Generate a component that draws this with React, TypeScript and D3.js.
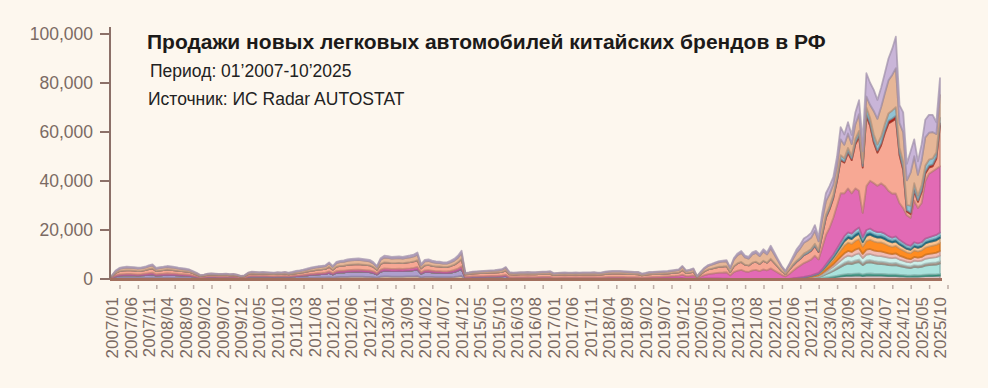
import React from 'react';
import * as d3 from 'd3';

// monthly sales, 2007/01 - 2025/10
const vortex = [
  [200, 400, 500, 500, 500, 500, 500, 500, 500, 600, 600, 700],
  [500, 550, 600, 650, 600, 600, 550, 500, 500, 450, 400, 300],
  [200, 250, 300, 300, 300, 300, 300, 300, 250, 300, 250, 200],
  [200, 350, 400, 400, 400, 400, 400, 350, 350, 400, 350, 400],
  [350, 400, 450, 450, 500, 550, 600, 600, 650, 650, 700, 800],
  [600, 800, 850, 850, 900, 950, 950, 950, 950, 900, 900, 800],
  [600, 950, 1050, 1050, 1000, 1000, 1000, 1000, 1050, 1050, 1100, 1200],
  [700, 900, 900, 850, 800, 800, 750, 750, 800, 900, 1050, 1250],
  [200, 200, 250, 250, 250, 250, 250, 250, 250, 250, 250, 300],
];

const lifan = [
  [300, 700, 900, 1000, 1000, 1000, 1000, 900, 1000, 1000, 1100, 1200],
  [900, 950, 1000, 1050, 1000, 1000, 950, 900, 850, 800, 650, 500],
  [350, 400, 500, 500, 500, 450, 450, 500, 450, 450, 400, 300],
  [300, 550, 650, 600, 600, 600, 600, 600, 550, 600, 600, 600],
  [550, 600, 700, 750, 850, 950, 1050, 1150, 1250, 1300, 1350, 1700],
  [1300, 1750, 1850, 1900, 2000, 2050, 2100, 2100, 2050, 2000, 1950, 1700],
  [1300, 2100, 2350, 2300, 2250, 2250, 2300, 2250, 2300, 2400, 2500, 2700],
  [1500, 1950, 2000, 1900, 1800, 1800, 1700, 1700, 1850, 2050, 2400, 2900],
  [500, 550, 600, 600, 650, 650, 700, 700, 700, 750, 800, 950],
  [550, 500, 550, 550, 550, 550, 550, 550, 550, 600, 600, 600],
  [450, 450, 500, 500, 500, 500, 500, 500, 500, 500, 500, 500],
  [450, 450, 500, 550, 550, 550, 550, 550, 500, 500, 500, 450],
  [350, 400, 400, 400, 400, 400, 400, 400, 400, 350, 350, 400],
  [200, 200, 200, 50, 150, 200, 200, 200, 200, 200, 150, 150],
  [50, 50, 50, 50, 50, 50, 50, 50, 50, 50, 50, 50],
];

const chery = [
  [200, 400, 500, 500, 600, 600, 500, 500, 500, 600, 700, 700],
  [550, 600, 600, 650, 650, 600, 550, 550, 500, 500, 400, 300],
  [200, 200, 250, 250, 250, 250, 250, 250, 250, 250, 200, 150],
  [150, 250, 300, 300, 250, 300, 250, 250, 250, 250, 250, 300],
  [250, 300, 300, 350, 350, 400, 450, 450, 500, 500, 550, 650],
  [500, 650, 700, 700, 750, 750, 750, 800, 750, 750, 700, 650],
  [500, 800, 900, 900, 850, 850, 900, 850, 900, 900, 950, 1000],
  [550, 700, 750, 700, 650, 650, 650, 650, 700, 750, 850, 1050],
  [250, 250, 300, 300, 300, 300, 300, 350, 350, 350, 400, 450],
  [250, 250, 250, 250, 250, 300, 250, 250, 300, 300, 300, 300],
  [200, 200, 200, 250, 200, 200, 250, 200, 250, 250, 250, 250],
  [250, 250, 300, 300, 300, 300, 300, 300, 300, 300, 300, 300],
  [250, 300, 400, 450, 500, 550, 650, 700, 800, 900, 1000, 1400],
  [1000, 1100, 1300, 350, 900, 1400, 1800, 2000, 2200, 2400, 2500, 2600],
  [1500, 2800, 3400, 3700, 3100, 2900, 3500, 3700, 3200, 3900, 3500, 4300],
  [3500, 2600, 1700, 1100, 2000, 3000, 4000, 4800, 5600, 6000, 6500, 7500],
  [5500, 9000, 12000, 13000, 15000, 17500, 20000, 17500, 18000, 16500, 17000, 15000],
  [10000, 18000, 19500, 19500, 19000, 20000, 19500, 18500, 18000, 17500, 15000, 14000],
  [12000, 11500, 17000, 14500, 16000, 23500, 26000, 26500, 27000, 27000],
];

const haval = [
  [400, 1000, 1300, 1400, 1400, 1400, 1400, 1300, 1300, 1400, 1600, 1700],
  [1300, 1350, 1400, 1500, 1450, 1350, 1300, 1250, 1200, 1100, 900, 700],
  [450, 500, 600, 650, 600, 600, 600, 600, 550, 600, 500, 350],
  [450, 800, 900, 850, 850, 900, 850, 800, 800, 850, 800, 850],
  [750, 800, 900, 950, 1050, 1150, 1250, 1350, 1400, 1450, 1500, 1800],
  [1400, 1850, 1950, 2000, 2100, 2150, 2200, 2200, 2150, 2100, 2050, 1800],
  [1400, 2250, 2500, 2450, 2350, 2400, 2400, 2350, 2450, 2500, 2600, 2800],
  [1600, 2050, 2100, 1950, 1900, 1850, 1800, 1800, 1950, 2150, 2500, 3000],
  [900, 1000, 1100, 1150, 1200, 1250, 1250, 1300, 1350, 1400, 1450, 1800],
  [1050, 1000, 1000, 1050, 1050, 1100, 1050, 1050, 1100, 1100, 1100, 1200],
  [950, 1000, 1050, 1050, 1050, 1050, 1050, 1050, 1050, 1050, 1050, 1100],
  [1050, 1100, 1200, 1300, 1350, 1350, 1350, 1300, 1250, 1200, 1150, 1150],
  [850, 950, 1100, 1100, 1100, 1100, 1100, 1100, 1200, 1300, 1350, 1900],
  [1200, 1300, 1450, 400, 1000, 1550, 1900, 2050, 2250, 2400, 2450, 2500],
  [1300, 2400, 3000, 3200, 2700, 2600, 3100, 3300, 2900, 3500, 3100, 3900],
  [3100, 2300, 1500, 900, 1700, 2200, 2500, 2700, 3200, 3300, 3500, 4000],
  [3000, 5000, 7000, 7500, 8000, 10000, 13500, 12500, 14500, 13500, 18000, 22000],
  [18500, 28500, 22500, 16500, 13500, 15500, 21500, 27500, 29500, 30500, 19500, 15500],
  [1500, 1500, 4000, 2500, 4500, 3000, 2500, 2000, 4000, 16500],
];

const geely = [
  [300, 700, 900, 1000, 1100, 1000, 1000, 1000, 1000, 1000, 1100, 1200],
  [900, 950, 1000, 1050, 1000, 950, 900, 850, 800, 750, 600, 500],
  [300, 350, 400, 450, 400, 350, 350, 400, 350, 350, 300, 200],
  [300, 500, 550, 550, 500, 500, 500, 500, 450, 500, 500, 550],
  [500, 550, 650, 700, 750, 800, 900, 950, 1000, 1050, 1100, 1350],
  [1100, 1400, 1500, 1550, 1650, 1700, 1700, 1750, 1700, 1650, 1600, 1400],
  [1100, 1750, 1950, 1900, 1850, 1900, 1900, 1850, 1900, 2000, 2050, 2250],
  [1200, 1550, 1600, 1500, 1450, 1400, 1350, 1350, 1500, 1650, 1900, 2300],
  [500, 550, 600, 650, 650, 700, 700, 700, 750, 800, 850, 1050],
  [700, 650, 650, 700, 700, 700, 700, 700, 700, 750, 750, 800],
  [600, 650, 650, 700, 650, 650, 700, 650, 700, 700, 700, 750],
  [650, 700, 750, 800, 850, 850, 850, 800, 800, 750, 700, 750],
  [550, 600, 700, 700, 750, 800, 800, 850, 850, 900, 950, 1300],
  [850, 950, 1050, 300, 750, 1150, 1450, 1600, 1750, 1900, 1950, 2000],
  [1500, 2700, 3300, 3700, 3000, 2800, 3400, 3600, 3200, 3800, 3400, 4300],
  [3400, 2500, 1700, 1000, 1800, 2300, 3300, 3800, 4400, 4500, 4600, 5300],
  [3700, 5300, 5600, 5000, 4300, 4700, 6500, 5500, 5900, 4800, 6000, 6800],
  [4800, 4500, 5300, 9500, 10500, 12000, 12500, 13500, 14500, 16000, 10000, 12000],
  [10000, 13500, 11000, 8500, 10000, 11500, 11000, 10800, 7500, 9200],
];

const other = [
  [100, 300, 400, 400, 400, 400, 400, 400, 400, 400, 500, 500],
  [350, 400, 400, 400, 400, 400, 350, 350, 350, 300, 250, 200],
  [100, 100, 150, 150, 150, 150, 150, 150, 150, 150, 150, 100],
  [100, 150, 200, 200, 200, 200, 200, 200, 200, 200, 200, 200],
  [200, 250, 300, 300, 300, 350, 350, 400, 400, 450, 400, 500],
  [400, 550, 550, 600, 600, 600, 600, 600, 600, 600, 600, 550],
  [400, 650, 750, 700, 700, 700, 700, 700, 700, 750, 800, 850],
  [450, 650, 650, 600, 600, 600, 550, 550, 600, 700, 800, 1000],
  [150, 150, 150, 150, 150, 150, 200, 200, 200, 250, 250, 350],
  [250, 200, 250, 250, 250, 250, 250, 250, 250, 250, 250, 300],
  [200, 200, 200, 200, 200, 200, 200, 200, 200, 200, 200, 200],
  [200, 200, 250, 250, 250, 250, 250, 250, 250, 250, 250, 250],
  [200, 250, 300, 250, 250, 250, 250, 250, 250, 250, 250, 300],
  [250, 250, 300, 100, 200, 300, 350, 350, 400, 400, 450, 450],
  [300, 600, 700, 800, 700, 700, 800, 800, 700, 900, 800, 1000],
  [800, 600, 400, 300, 500, 900, 1300, 1500, 1750, 1800, 1900, 2300],
  [1600, 2650, 3200, 3250, 3000, 3600, 5000, 4200, 4600, 3700, 4800, 5700],
  [3900, 9500, 9000, 8600, 7700, 7900, 8200, 8900, 10600, 12800, 7300, 8100],
  [6700, 8600, 6900, 5500, 6600, 7200, 7300, 7000, 4800, 7000],
];

// brands on the market from 2022/06 on
const kaiyi = [0, 0, 50, 50, 100, 100, 150, 200, 300, 400, 550, 700, 850, 1050, 1200, 1350, 1300, 1400, 1450, 1200, 1400, 1450, 1350, 1350, 1350, 1300, 1200, 1200, 1200, 1100, 1050, 1000, 950, 1050, 1000, 1050, 1150, 1200, 1200, 1250, 1350];
const changan = [0, 0, 0, 50, 50, 50, 100, 100, 150, 250, 300, 400, 500, 600, 700, 750, 750, 800, 850, 700, 800, 800, 800, 750, 750, 750, 700, 700, 700, 650, 600, 550, 550, 600, 600, 600, 650, 700, 700, 700, 750];
const tenet = [0, 0, 50, 100, 150, 250, 350, 500, 850, 1300, 1750, 2200, 2750, 3300, 3850, 4200, 4050, 4400, 4600, 3750, 4400, 4500, 4300, 4100, 4000, 3900, 3800, 3700, 3800, 3500, 3300, 3100, 2950, 3300, 3200, 3300, 3650, 3750, 3850, 3950, 4200];
const faw = [0, 50, 50, 50, 50, 100, 100, 150, 200, 300, 400, 500, 650, 750, 900, 950, 900, 1000, 1050, 850, 1000, 1000, 950, 950, 950, 900, 900, 850, 900, 800, 750, 700, 700, 750, 700, 750, 800, 850, 900, 900, 950];
const jetour = [0, 50, 100, 100, 150, 150, 250, 300, 500, 700, 950, 1200, 1500, 1800, 2100, 2300, 2200, 2400, 2500, 2050, 2400, 2450, 2350, 2300, 2300, 2200, 2100, 2050, 2100, 1900, 1800, 1650, 1600, 1800, 1750, 1800, 2000, 2050, 2100, 2150, 2300];
const omoda = [50, 100, 100, 150, 150, 200, 200, 250, 400, 600, 800, 1000, 1250, 1500, 1750, 1900, 1850, 2000, 2100, 1700, 2000, 2050, 1950, 1900, 1900, 1850, 1750, 1700, 1750, 1600, 1500, 1400, 1350, 1500, 1450, 1500, 1650, 1700, 1750, 1800, 1900];
const exeed = [100, 150, 200, 200, 250, 300, 400, 450, 700, 1100, 1450, 1800, 2250, 2700, 3150, 3400, 3350, 3600, 3800, 3050, 3600, 3800, 3700, 3600, 3700, 3500, 3200, 3000, 3100, 2900, 2700, 2500, 2450, 2700, 2600, 2700, 2950, 3050, 3150, 3250, 3400];
const jaecoo = [0, 0, 0, 50, 100, 100, 150, 250, 400, 600, 800, 1000, 1250, 1500, 1750, 1900, 1850, 2000, 2100, 1700, 2000, 2050, 1950, 1900, 1900, 1850, 1750, 1700, 1750, 1600, 1500, 1400, 1350, 1500, 1450, 1500, 1650, 1700, 1750, 1800, 1900];
const dongfeng = [50, 50, 50, 50, 50, 100, 100, 100, 200, 300, 400, 500, 600, 750, 850, 950, 950, 1000, 1050, 850, 1000, 1000, 1000, 950, 950, 950, 850, 850, 850, 800, 750, 700, 650, 750, 750, 750, 850, 850, 850, 900, 950];
const gac = [100, 100, 100, 100, 150, 150, 200, 200, 300, 450, 600, 700, 900, 1050, 1250, 1300, 1300, 1400, 1500, 1150, 1400, 1500, 1350, 1300, 1300, 1300, 1250, 1150, 1250, 1150, 1050, 1000, 950, 1050, 1000, 1050, 1150, 1150, 1250, 1300, 1300];
const hongqi = [0, 0, 0, 50, 50, 100, 100, 100, 150, 200, 250, 300, 400, 500, 500, 600, 600, 700, 800, 600, 1000, 900, 900, 800, 900, 1000, 1100, 1100, 1200, 900, 800, 600, 600, 700, 600, 700, 800, 800, 800, 900, 1000];
const byd = [300, 400, 500, 600, 650, 700, 800, 600, 900, 1000, 1000, 1000, 1100, 1500, 1300, 1400, 1200, 1500, 1700, 1200, 2500, 2300, 2500, 2500, 2700, 2800, 3000, 3300, 3500, 2300, 2600, 2200, 2800, 2400, 1900, 2200, 2500, 2400, 2400, 1800, 2300];

const months = d3.timeMonth.range(new Date(2007, 0, 1), new Date(2025, 10, 1));
const fmtMonth = d3.timeFormat('%Y/%m');
const lateFrom = months.findIndex(m => fmtMonth(m) === '2022/06');

const yTicks = [0, 20000, 40000, 60000, 80000, 100000];

const full = (rows: number[][]) => {
  const v = rows.flat();
  return months.map((_, i) => v[i] ?? 0);
};
const late = (v: number[]) => months.map((_, i) => (i >= lateFrom ? v[i - lateFrom] : 0));

// bottom -> top
const series: [string, number[], string][] = [
  ['Vortex', full(vortex), '#dbbd9e'],
  ['Lifan', full(lifan), '#ae9fcd'],
  ['Kaiyi', late(kaiyi), '#d9c3c6'],
  ['Changan', late(changan), '#3aa58e'],
  ['Tenet', late(tenet), '#a9e2dc'],
  ['FAW', late(faw), '#b8a498'],
  ['Jetour', late(jetour), '#cdeee9'],
  ['Omoda', late(omoda), '#f2bcb4'],
  ['Exeed', late(exeed), '#ff8c21'],
  ['Jaecoo', late(jaecoo), '#fcc38e'],
  ['Dongfeng', late(dongfeng), '#1b7592'],
  ['GAC', late(gac), '#95cfe0'],
  ['Chery', full(chery), '#e26ab5'],
  ['Haval', full(haval), '#f7a894'],
  ['Hongqi', late(hongqi), '#c9281a'],
  ['BYD', late(byd), '#91c2d3'],
  ['Geely', full(geely), '#e6b697'],
  ['Другие', full(other), '#c9b5d8'],
];

const W = 988;
const H = 388;
const BG = '#fdf7ee';
const AXIS = '#8c7068';
const TXT = '#7b6a63';
const FONT = '"Liberation Sans", Arial, Helvetica, sans-serif';

export default function App() {
  const table = months.map((m, i) => {
    const row: Record<string, number> = { i };
    series.forEach(([k, v]) => (row[k] = v[i]));
    return row;
  });
  const stacked = d3.stack<Record<string, number>>().keys(series.map(s => s[0]))(table);

  const x = d3.scaleLinear().domain([0, months.length - 1]).range([112, 940]);
  const y = d3.scaleLinear().domain([0, 100000]).range([279, 34]);

  const area = d3.area<d3.SeriesPoint<Record<string, number>>>()
    .x(d => x(d.data.i))
    .y0(d => y(d[0]))
    .y1(d => y(d[1]));

  const fmt = d3.format(',');
  const xTickIdx = months.map((_, i) => i).filter(i => i % 5 === 0);

  return (
    <div style={{ position: 'fixed', left: 0, top: 0, width: W, height: H, background: BG }}>
      <svg width={W} height={H} style={{ display: 'block', fontFamily: FONT }}>
        <rect width={W} height={H} fill={BG} />
        {stacked.map((s, k) => {
          const fill = series[k][2];
          return (
            <path
              key={s.key}
              d={area(s) || ''}
              fill={fill}
              stroke={d3.color(fill)!.darker(0.7).formatHex()}
              strokeOpacity={0.7}
              strokeWidth={1.8}
              strokeLinejoin="round"
            />
          );
        })}

        {/* y axis */}
        <line x1={110} x2={110} y1={27} y2={280} stroke={AXIS} strokeWidth={2} />
        {yTicks.map(t => (
          <g key={t} transform={`translate(0,${y(t)})`}>
            <line x1={100} x2={110} stroke={AXIS} strokeWidth={2} />
            <text x={93} dy="0.35em" textAnchor="end" fontSize={17.5} fill={TXT}>
              {fmt(t)}
            </text>
          </g>
        ))}

        {/* x axis */}
        <line x1={110} x2={942} y1={279.5} y2={279.5} stroke="#a3705f" strokeWidth={3} />
        {xTickIdx.map(i => (
          <g key={i} transform={`translate(${x(i)},0)`}>
            <line x1={8} x2={8} y1={285} y2={289} stroke="#bcaca5" strokeWidth={1.5} />
            <text
              transform="translate(0,297) rotate(-90)"
              dy="0.36em"
              textAnchor="end"
              fontSize={17}
              fill={TXT}
            >
              {fmtMonth(months[i])}
            </text>
          </g>
        ))}

        <text x={147} y={49} fontSize={21} fontWeight="bold" fill="#1c1a19">
          Продажи новых легковых автомобилей китайских брендов в РФ
        </text>
        <text x={150} y={77} fontSize={17.5} fill="#222">
          Период: 01’2007-10’2025
        </text>
        <text x={148} y={105} fontSize={17.5} fill="#222">
          Источник: ИС Radar AUTOSTAT
        </text>
      </svg>
    </div>
  );
}
